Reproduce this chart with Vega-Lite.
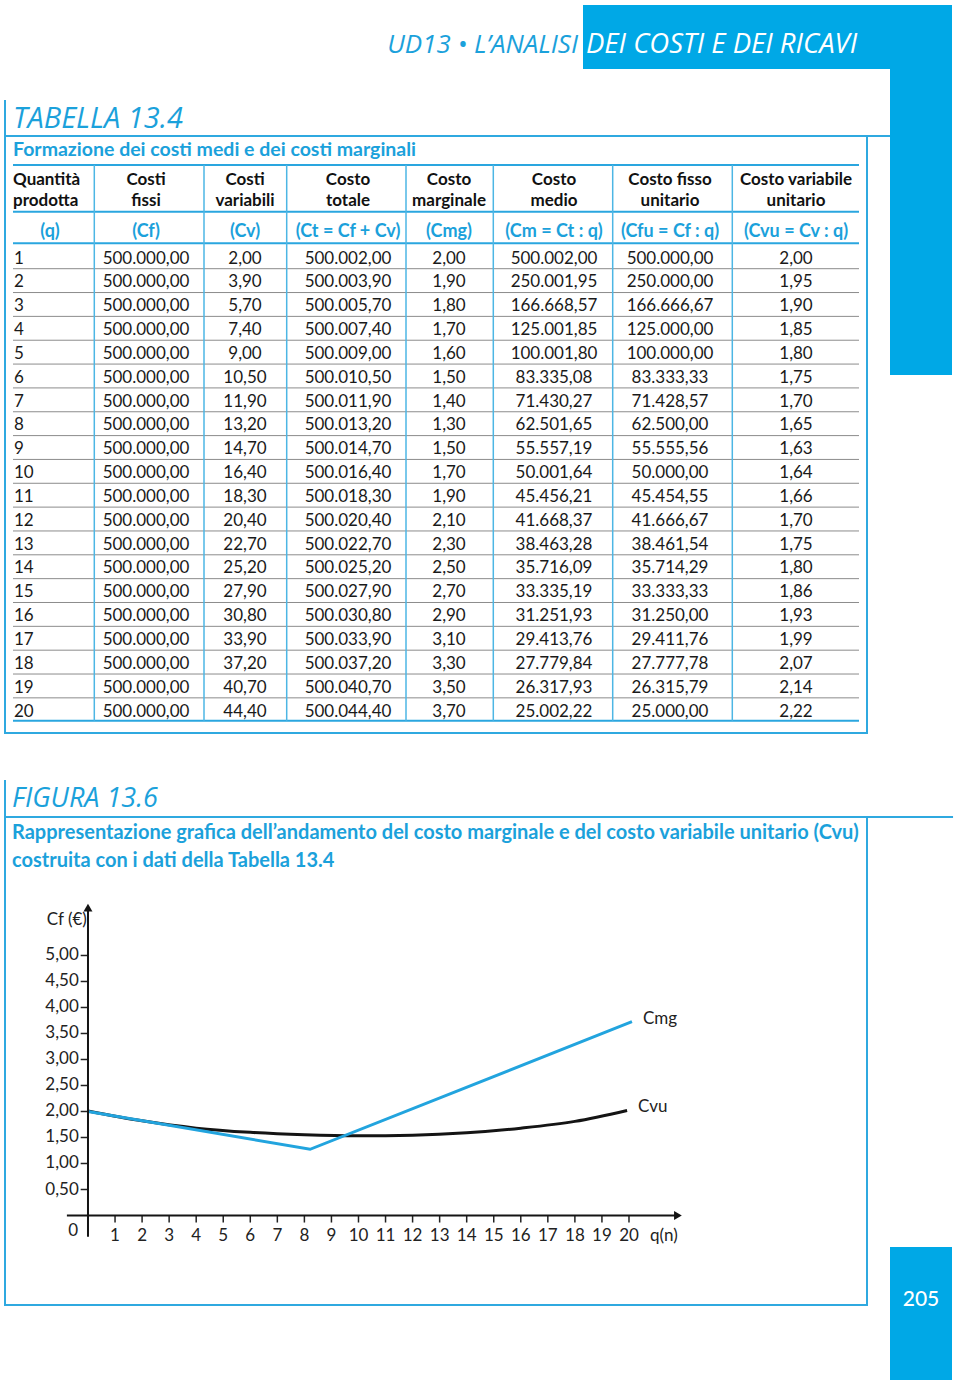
{
"$schema": "https://vega.github.io/schema/vega-lite/v6.json",
"background": "#ffffff",
"padding": {"left": 3, "top": 5, "right": 0, "bottom": 0},
"bounds": "flush",
"spacing": 885,
"config": {
  "view": {"stroke": null},
  "font": "Lato",
  "locale": {"number": {"decimal": ",", "thousands": ".", "grouping": [3], "currency": ["", " €"]}},
  "text": {"color": "#1a1a1a", "font": "Lato"}
},
"datasets": {
  "tab": [
    {"q":1,"cf":500000,"cv":2.0,"ct":500002.0,"cmg":2.0,"cm":500002.0,"cfu":500000.0,"cvu":2.0},
    {"q":2,"cf":500000,"cv":3.9,"ct":500003.9,"cmg":1.9,"cm":250001.95,"cfu":250000.0,"cvu":1.95},
    {"q":3,"cf":500000,"cv":5.7,"ct":500005.7,"cmg":1.8,"cm":166668.57,"cfu":166666.67,"cvu":1.9},
    {"q":4,"cf":500000,"cv":7.4,"ct":500007.4,"cmg":1.7,"cm":125001.85,"cfu":125000.0,"cvu":1.85},
    {"q":5,"cf":500000,"cv":9.0,"ct":500009.0,"cmg":1.6,"cm":100001.8,"cfu":100000.0,"cvu":1.8},
    {"q":6,"cf":500000,"cv":10.5,"ct":500010.5,"cmg":1.5,"cm":83335.08,"cfu":83333.33,"cvu":1.75},
    {"q":7,"cf":500000,"cv":11.9,"ct":500011.9,"cmg":1.4,"cm":71430.27,"cfu":71428.57,"cvu":1.7},
    {"q":8,"cf":500000,"cv":13.2,"ct":500013.2,"cmg":1.3,"cm":62501.65,"cfu":62500.0,"cvu":1.65},
    {"q":9,"cf":500000,"cv":14.7,"ct":500014.7,"cmg":1.5,"cm":55557.19,"cfu":55555.56,"cvu":1.63},
    {"q":10,"cf":500000,"cv":16.4,"ct":500016.4,"cmg":1.7,"cm":50001.64,"cfu":50000.0,"cvu":1.64},
    {"q":11,"cf":500000,"cv":18.3,"ct":500018.3,"cmg":1.9,"cm":45456.21,"cfu":45454.55,"cvu":1.66},
    {"q":12,"cf":500000,"cv":20.4,"ct":500020.4,"cmg":2.1,"cm":41668.37,"cfu":41666.67,"cvu":1.7},
    {"q":13,"cf":500000,"cv":22.7,"ct":500022.7,"cmg":2.3,"cm":38463.28,"cfu":38461.54,"cvu":1.75},
    {"q":14,"cf":500000,"cv":25.2,"ct":500025.2,"cmg":2.5,"cm":35716.09,"cfu":35714.29,"cvu":1.8},
    {"q":15,"cf":500000,"cv":27.9,"ct":500027.9,"cmg":2.7,"cm":33335.19,"cfu":33333.33,"cvu":1.86},
    {"q":16,"cf":500000,"cv":30.8,"ct":500030.8,"cmg":2.9,"cm":31251.93,"cfu":31250.0,"cvu":1.93},
    {"q":17,"cf":500000,"cv":33.9,"ct":500033.9,"cmg":3.1,"cm":29413.76,"cfu":29411.76,"cvu":1.99},
    {"q":18,"cf":500000,"cv":37.2,"ct":500037.2,"cmg":3.3,"cm":27779.84,"cfu":27777.78,"cvu":2.07},
    {"q":19,"cf":500000,"cv":40.7,"ct":500040.7,"cmg":3.5,"cm":26317.93,"cfu":26315.79,"cvu":2.14},
    {"q":20,"cf":500000,"cv":44.4,"ct":500044.4,"cmg":3.7,"cm":25002.22,"cfu":25000.0,"cvu":2.22}
  ],
  "cols": [
    {"key":"q","col":0,"h1":"Quantità","h2":"prodotta","f":"(q)"},
    {"key":"cf","col":1,"h1":"Costi","h2":"fissi","f":"(Cf)"},
    {"key":"cv","col":2,"h1":"Costi","h2":"variabili","f":"(Cv)"},
    {"key":"ct","col":3,"h1":"Costo","h2":"totale","f":"(Ct = Cf + Cv)"},
    {"key":"cmg","col":4,"h1":"Costo","h2":"marginale","f":"(Cmg)"},
    {"key":"cm","col":5,"h1":"Costo","h2":"medio","f":"(Cm = Ct : q)"},
    {"key":"cfu","col":6,"h1":"Costo fisso","h2":"unitario","f":"(Cfu = Cf : q)"},
    {"key":"cvu","col":7,"h1":"Costo variabile","h2":"unitario","f":"(Cvu = Cv : q)"}
  ],
  "curve": [
    {"serie":"Cmg","q":0,"costo":2.0},
    {"serie":"Cmg","q":8.21,"costo":1.273},
    {"serie":"Cmg","q":20.11,"costo":3.727},
    {"serie":"Cvu","q":0,"costo":2.01},
    {"serie":"Cvu","q":2,"costo":1.82},
    {"serie":"Cvu","q":4,"costo":1.68},
    {"serie":"Cvu","q":6,"costo":1.6},
    {"serie":"Cvu","q":8,"costo":1.555},
    {"serie":"Cvu","q":10,"costo":1.535},
    {"serie":"Cvu","q":12,"costo":1.545},
    {"serie":"Cvu","q":14,"costo":1.59},
    {"serie":"Cvu","q":16,"costo":1.68},
    {"serie":"Cvu","q":18,"costo":1.81},
    {"serie":"Cvu","q":19.93,"costo":2.02}
  ],
  "tacche_q": [{"q":1},{"q":2},{"q":3},{"q":4},{"q":5},{"q":6},{"q":7},{"q":8},{"q":9},{"q":10},{"q":11},{"q":12},{"q":13},{"q":14},{"q":15},{"q":16},{"q":17},{"q":18},{"q":19},{"q":20}],
  "tacche_c": [{"costo":0.5},{"costo":1.0},{"costo":1.5},{"costo":2.0},{"costo":2.5},{"costo":3.0},{"costo":3.5},{"costo":4.0},{"costo":4.5},{"costo":5.0}]
},
"hconcat": [
  {"bounds": "flush", "spacing": 131, "vconcat": [
    {"bounds": "flush", "spacing": 0, "hconcat": [
      {"width": 578, "height": 64,
       "data": {"values": [{"testata": "UD13 • L’ANALISI"}]},
       "mark": {"type": "text", "align": "right", "dx": 284, "dy": 8, "font": "Open Sans", "fontStyle": "italic", "fontSize": 26, "color": "#1ba1db"},
       "encoding": {"text": {"field": "testata"}}},
      {"width": 307, "height": 64, "view": {"fill": "#00a8e6", "stroke": null},
       "data": {"values": [{"testata": "DEI COSTI E DEI RICAVI"}]},
       "mark": {"type": "text", "align": "left", "dx": -150.5, "dy": 8, "font": "Open Sans", "fontStyle": "italic", "fontSize": 27.5, "color": "#ffffff"},
       "encoding": {"text": {"field": "testata"}}}
    ]},
    {"bounds": "flush", "spacing": 84, "vconcat": [
      {"width": 862, "height": 597,
       "view": {"stroke": "#2fa9e0", "strokeWidth": 2},
       "title": {"text": "TABELLA 13.4", "subtitle": "Formazione dei costi medi e dei costi marginali",
                 "anchor": "start", "frame": "group", "dx": 8, "offset": -61,
                 "font": "Open Sans", "fontStyle": "italic", "fontWeight": "normal", "fontSize": 29, "color": "#1ba1db",
                 "subtitleFont": "Lato", "subtitleFontWeight": "bold", "subtitleFontSize": 19.5, "subtitleColor": "#1ba1db", "subtitlePadding": 7},
       "layer": [
         {"data": {"name": "tab"}, "transform": [{"filter": "datum.q < 20"}],
          "mark": {"type": "rule", "stroke": "#8c8c8c", "strokeWidth": 1, "yOffset": 10.2},
          "encoding": {
            "x": {"datum": -0.5, "type": "quantitative", "axis": null,
                  "scale": {"domain": [-0.5,0,0.5,1,1.5,2,2.5,3,3.5,4,4.5,5,5.5,6,6.5,7,7.5], "range": [8,45,89.3,141,199,240,281.7,343,401,444,488.3,549,607.7,665,727.3,791,854], "zero": false, "nice": false}},
            "x2": {"datum": 7.5},
            "y": {"field": "q", "type": "quantitative", "axis": null,
                  "scale": {"domain": [-3,-2,-1,-0.5,0,0.5,1,20,20.5], "range": [29,43.5,64.5,75.7,95.5,107.3,122.5,575.5,584.7], "zero": false, "nice": false}}}},
         {"data": {"values": [{}]}, "mark": {"type": "rule", "stroke": "#2fa9e0", "strokeWidth": 2},
          "encoding": {"x": {"datum": 7.55, "axis": null}, "x2": {"datum": 7.746}, "y": {"datum": -5.0, "axis": null}}},
         {"data": {"values": [{}]}, "mark": {"type": "rule", "stroke": "#2fa9e0", "strokeWidth": 2},
          "encoding": {"x": {"datum": -0.608, "axis": null}, "y": {"datum": -7.483, "axis": null}, "y2": {"datum": -5.0}}},
         {"data": {"values": [{}]}, "mark": {"type": "rule", "stroke": "#2aa6df", "strokeWidth": 2},
          "encoding": {"x": {"datum": -0.5, "axis": null}, "x2": {"datum": 7.5}, "y": {"datum": -3, "axis": null}}},
         {"data": {"values": [{}]}, "mark": {"type": "rule", "stroke": "#2aa6df", "strokeWidth": 2},
          "encoding": {"x": {"datum": -0.5, "axis": null}, "x2": {"datum": 7.5}, "y": {"datum": -0.5, "axis": null}}},
         {"data": {"values": [{}]}, "mark": {"type": "rule", "stroke": "#2aa6df", "strokeWidth": 2},
          "encoding": {"x": {"datum": -0.5, "axis": null}, "x2": {"datum": 7.5}, "y": {"datum": 0.5, "axis": null}}},
         {"data": {"values": [{}]}, "mark": {"type": "rule", "stroke": "#2aa6df", "strokeWidth": 2},
          "encoding": {"x": {"datum": -0.5, "axis": null}, "x2": {"datum": 7.5}, "y": {"datum": 20.5, "axis": null}}},
         {"data": {"values": [{}]}, "mark": {"type": "rule", "stroke": "#4db6e4", "strokeWidth": 1.5},
          "encoding": {"x": {"datum": 0.5, "axis": null}, "y": {"datum": -3, "axis": null}, "y2": {"datum": 20.5}}},
         {"data": {"values": [{}]}, "mark": {"type": "rule", "stroke": "#4db6e4", "strokeWidth": 1.5},
          "encoding": {"x": {"datum": 1.5, "axis": null}, "y": {"datum": -3, "axis": null}, "y2": {"datum": 20.5}}},
         {"data": {"values": [{}]}, "mark": {"type": "rule", "stroke": "#4db6e4", "strokeWidth": 1.5},
          "encoding": {"x": {"datum": 2.5, "axis": null}, "y": {"datum": -3, "axis": null}, "y2": {"datum": 20.5}}},
         {"data": {"values": [{}]}, "mark": {"type": "rule", "stroke": "#4db6e4", "strokeWidth": 1.5},
          "encoding": {"x": {"datum": 3.5, "axis": null}, "y": {"datum": -3, "axis": null}, "y2": {"datum": 20.5}}},
         {"data": {"values": [{}]}, "mark": {"type": "rule", "stroke": "#4db6e4", "strokeWidth": 1.5},
          "encoding": {"x": {"datum": 4.5, "axis": null}, "y": {"datum": -3, "axis": null}, "y2": {"datum": 20.5}}},
         {"data": {"values": [{}]}, "mark": {"type": "rule", "stroke": "#4db6e4", "strokeWidth": 1.5},
          "encoding": {"x": {"datum": 5.5, "axis": null}, "y": {"datum": -3, "axis": null}, "y2": {"datum": 20.5}}},
         {"data": {"values": [{}]}, "mark": {"type": "rule", "stroke": "#4db6e4", "strokeWidth": 1.5},
          "encoding": {"x": {"datum": 6.5, "axis": null}, "y": {"datum": -3, "axis": null}, "y2": {"datum": 20.5}}},
         {"data": {"name": "cols"}, "transform": [{"filter": "datum.col > 0"}],
          "mark": {"type": "text", "fontWeight": "bold", "fontSize": 17, "color": "#111111"},
          "encoding": {"x": {"field": "col", "type": "quantitative", "axis": null}, "y": {"datum": -2, "axis": null}, "text": {"field": "h1"}}},
         {"data": {"name": "cols"}, "transform": [{"filter": "datum.col > 0"}],
          "mark": {"type": "text", "fontWeight": "bold", "fontSize": 17, "color": "#111111"},
          "encoding": {"x": {"field": "col", "type": "quantitative", "axis": null}, "y": {"datum": -1, "axis": null}, "text": {"field": "h2"}}},
         {"data": {"name": "cols"}, "transform": [{"filter": "datum.col == 0"}],
          "mark": {"type": "text", "align": "left", "fontWeight": "bold", "fontSize": 17, "color": "#111111"},
          "encoding": {"x": {"datum": -0.5, "axis": null}, "y": {"datum": -2, "axis": null}, "text": {"field": "h1"}}},
         {"data": {"name": "cols"}, "transform": [{"filter": "datum.col == 0"}],
          "mark": {"type": "text", "align": "left", "fontWeight": "bold", "fontSize": 17, "color": "#111111"},
          "encoding": {"x": {"datum": -0.5, "axis": null}, "y": {"datum": -1, "axis": null}, "text": {"field": "h2"}}},
         {"data": {"name": "cols"},
          "mark": {"type": "text", "fontWeight": "bold", "fontSize": 18, "color": "#1ba1db"},
          "encoding": {"x": {"field": "col", "type": "quantitative", "axis": null}, "y": {"datum": 0, "axis": null}, "text": {"field": "f"}}},
         {"data": {"name": "tab"},
          "mark": {"type": "text", "align": "left", "dx": 1, "fontSize": 17, "color": "#1a1a1a"},
          "encoding": {"x": {"datum": -0.5, "axis": null}, "y": {"field": "q", "type": "quantitative", "axis": null}, "text": {"field": "q"}}},
         {"data": {"name": "tab"},
          "transform": [
            {"fold": ["cf","cv","ct","cmg","cm","cfu","cvu"], "as": ["key","val"]},
            {"lookup": "key", "from": {"data": {"name": "cols"}, "key": "key", "fields": ["col"]}}
          ],
          "mark": {"type": "text", "fontSize": 17, "color": "#1a1a1a"},
          "encoding": {"x": {"field": "col", "type": "quantitative", "axis": null}, "y": {"field": "q", "type": "quantitative", "axis": null}, "text": {"field": "val", "type": "quantitative", "format": ",.2f"}}}
       ]},
      {"width": 862, "height": 488,
       "view": {"stroke": "#2fa9e0", "strokeWidth": 2},
       "title": {"text": "FIGURA 13.6",
                 "subtitle": ["Rappresentazione grafica dell’andamento del costo marginale e del costo variabile unitario (Cvu)", "costruita con i dati della Tabella 13.4"],
                 "anchor": "start", "frame": "group", "dx": 7, "offset": -93,
                 "font": "Open Sans", "fontStyle": "italic", "fontWeight": "normal", "fontSize": 27, "color": "#1ba1db",
                 "subtitleFont": "Lato", "subtitleFontWeight": "bold", "subtitleFontSize": 20, "subtitleColor": "#1ba1db", "subtitlePadding": 10, "subtitleLineHeight": 28},
       "layer": [
         {"data": {"name": "curve"}, "transform": [{"filter": "datum.serie == 'Cvu'"}],
          "mark": {"type": "line", "interpolate": "monotone", "stroke": "#141414", "strokeWidth": 3},
          "encoding": {
            "x": {"field": "q", "type": "quantitative", "axis": null,
                  "scale": {"domain": [-3.068, 28.799], "nice": false, "zero": false}},
            "y": {"field": "costo", "type": "quantitative", "axis": null,
                  "scale": {"domain": [-1.721, 7.663], "nice": false, "zero": false}}}},
         {"data": {"name": "curve"}, "transform": [{"filter": "datum.serie == 'Cmg'"}],
          "mark": {"type": "line", "stroke": "#22a4de", "strokeWidth": 3},
          "encoding": {"x": {"field": "q", "type": "quantitative", "axis": null}, "y": {"field": "costo", "type": "quantitative", "axis": null}}},
         {"data": {"values": [{}]}, "mark": {"type": "rule", "stroke": "#2fa9e0", "strokeWidth": 2},
          "encoding": {"x": {"datum": 28.8, "axis": null}, "x2": {"datum": 31.98}, "y": {"datum": 7.663, "axis": null}}},
         {"data": {"values": [{}]}, "mark": {"type": "rule", "stroke": "#2fa9e0", "strokeWidth": 2},
          "encoding": {"x": {"datum": -3.068, "axis": null}, "y": {"datum": 8.375, "axis": null}, "y2": {"datum": 7.663}}},
         {"data": {"name": "tacche_q"}, "mark": {"type": "rule", "stroke": "#222222", "strokeWidth": 1.5},
          "encoding": {"x": {"field": "q", "type": "quantitative", "axis": null}, "y": {"datum": 0, "axis": null}, "y2": {"datum": -0.135}}},
         {"data": {"name": "tacche_q"}, "mark": {"type": "text", "fontSize": 17, "color": "#222222"},
          "encoding": {"x": {"field": "q", "type": "quantitative", "axis": null}, "y": {"datum": -0.4, "axis": null}, "text": {"field": "q"}}},
         {"data": {"name": "tacche_c"}, "mark": {"type": "rule", "stroke": "#222222", "strokeWidth": 1.5},
          "encoding": {"y": {"field": "costo", "type": "quantitative", "axis": null}, "x": {"datum": -0.27, "axis": null}, "x2": {"datum": 0}}},
         {"data": {"name": "tacche_c"}, "mark": {"type": "text", "align": "right", "fontSize": 17, "color": "#222222"},
          "encoding": {"y": {"field": "costo", "type": "quantitative", "axis": null}, "x": {"datum": -0.34, "axis": null}, "text": {"field": "costo", "type": "quantitative", "format": ".2f"}}},
         {"data": {"values": [{}]}, "mark": {"type": "rule", "stroke": "#141414", "strokeWidth": 2},
          "encoding": {"x": {"datum": -0.78, "axis": null}, "x2": {"datum": 21.8}, "y": {"datum": 0, "axis": null}}},
         {"data": {"values": [{}]}, "mark": {"type": "rule", "stroke": "#141414", "strokeWidth": 2},
          "encoding": {"x": {"datum": 0, "axis": null}, "y": {"datum": -0.41, "axis": null}, "y2": {"datum": 5.9}}},
         {"data": {"values": [{}]}, "mark": {"type": "point", "shape": "triangle-up", "filled": true, "color": "#141414", "size": 80, "opacity": 1},
          "encoding": {"x": {"datum": 0, "axis": null}, "y": {"datum": 5.92, "axis": null}}},
         {"data": {"values": [{}]}, "mark": {"type": "point", "shape": "triangle-right", "filled": true, "color": "#141414", "size": 80, "opacity": 1},
          "encoding": {"x": {"datum": 21.81, "axis": null}, "y": {"datum": 0, "axis": null}}},
         {"data": {"name": "curve"}, "transform": [{"filter": "datum.q > 19"}],
          "mark": {"type": "text", "align": "left", "dx": 11, "dy": -3, "fontSize": 17, "color": "#222222"},
          "encoding": {"x": {"field": "q", "type": "quantitative", "axis": null}, "y": {"field": "costo", "type": "quantitative", "axis": null}, "text": {"field": "serie"}}},
         {"data": {"values": [{}]}, "mark": {"type": "text", "align": "right", "fontSize": 17, "color": "#222222"},
          "encoding": {"x": {"datum": -0.04, "axis": null}, "y": {"datum": 5.68, "axis": null}, "text": {"value": "Cf (€)"}}},
         {"data": {"values": [{}]}, "mark": {"type": "text", "align": "center", "fontSize": 17, "color": "#222222"},
          "encoding": {"x": {"datum": -0.55, "axis": null}, "y": {"datum": -0.3, "axis": null}, "text": {"value": "0"}}},
         {"data": {"values": [{}]}, "mark": {"type": "text", "align": "left", "fontSize": 17, "color": "#222222"},
          "encoding": {"x": {"datum": 20.78, "axis": null}, "y": {"datum": -0.39, "axis": null}, "text": {"value": "q(n)"}}}
       ]}
    ]}
  ]},
  {"bounds": "flush", "spacing": 872, "vconcat": [
    {"width": 62, "height": 370, "view": {"fill": "#00a8e6", "stroke": null},
     "data": {"values": [{}]}, "mark": {"type": "text"}, "encoding": {"text": {"value": ""}}},
    {"width": 62, "height": 133, "view": {"fill": "#00a8e6", "stroke": null},
     "data": {"values": [{"pagina": "205"}]},
     "mark": {"type": "text", "color": "#ffffff", "fontSize": 21, "fontWeight": 500, "dy": -14},
     "encoding": {"text": {"field": "pagina"}}}
  ]}
]
}
